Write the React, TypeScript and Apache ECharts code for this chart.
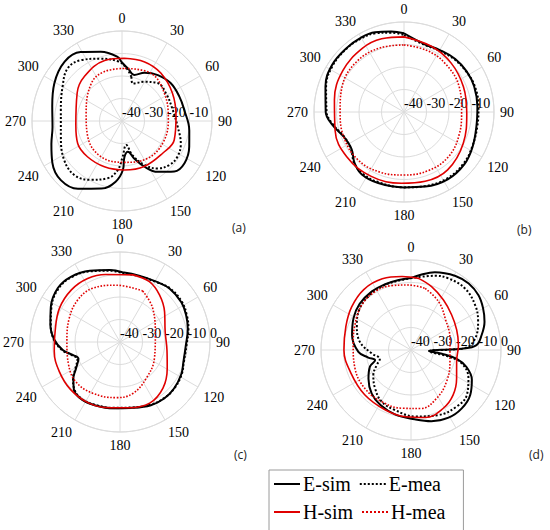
import React, { useEffect, useRef } from "react";
import * as echarts from "echarts";

// Tick labels
const ANGLE_LABELS = ["0", "30", "60", "90", "120", "150", "180", "210", "240", "270", "300", "330"];
const RADIUS_MIN = -40;
const RADIUS_MAX = 0;
const RADIUS_STEP = 10;
const SERIES_NAMES = ["E-sim", "E-mea", "H-sim", "H-mea"];
const PANEL_LABELS = ["(a)", "(b)", "(c)", "(d)"];
// whether the outermost ring label (0) is shown in each panel
const SHOW_ZERO_LABEL = [false, false, true, true];

// [angle in degrees (0 = top, clockwise), gain in dB]
const A_ESIM = [[8,-17.0],[15,-18.8],[25,-16.3],[38,-14.1],[52,-12.6],[67,-12.3],[80,-11.9],[98,-9.8],[111,-8.0],[124,-6.5],[134,-7.7],[145,-12.4],[154,-17.5],[162,-22.5],[169,-26.1],[176,-24.1],[179,-18.2],[186,-12.9],[197,-8.6],[213,-4.1],[226,-2.2],[239,-3.9],[252,-7.0],[265,-9.0],[282,-8.3],[299,-5.6],[316,-3.3],[329,-4.2],[343,-7.8],[356,-11.4],[0,-14.0]];
const A_EMEA = [[12,-19.9],[16,-22.7],[30,-19.9],[43,-16.9],[58,-16.9],[78,-16.9],[96,-15.1],[111,-12.0],[123,-10.7],[133,-11.3],[143,-13.6],[153,-18.1],[163,-24.1],[170,-29.2],[179,-24.1],[185,-18.1],[194,-13.8],[208,-10.4],[221,-8.0],[236,-9.0],[256,-12.0],[280,-12.4],[300,-9.5],[314,-6.4],[326,-7.4],[341,-10.7],[357,-13.6],[5,-16.5]];
const A_HSIM = [[2,-12.1],[21,-11.9],[39,-12.6],[61,-14.4],[85,-15.9],[110,-15.3],[128,-16.9],[154,-17.5],[177,-18.2],[201,-18.2],[224,-17.9],[243,-17.9],[265,-19.4],[302,-16.5],[320,-14.1],[344,-12.0]];
const A_HMEA = [[3,-16.6],[31,-15.2],[57,-17.5],[89,-19.4],[119,-19.4],[146,-19.9],[177,-21.6],[211,-21.6],[246,-23.3],[282,-23.7],[321,-18.4],[340,-16.7]];

const B_ESIM = [[0,-5.0],[17,-8.5],[30,-8.2],[44,-7.2],[57,-6.8],[70,-6.8],[86,-7.3],[101,-7.2],[117,-5.8],[131,-4.5],[147,-4.3],[164,-5.5],[180,-6.5],[200,-6.4],[214,-6.5],[224,-8.4],[235,-11.5],[248,-11.0],[260,-7.6],[270,-5.2],[288,-3.3],[303,-1.8],[318,-1.8],[330,-1.8],[340,-2.3],[351,-3.8]];
const B_EMEA = [[0,-5.8],[17,-8.8],[30,-8.6],[44,-7.6],[57,-7.0],[70,-6.5],[86,-6.8],[101,-6.8],[117,-6.0],[131,-5.0],[147,-4.8],[164,-5.8],[180,-6.5],[200,-6.8],[214,-7.0],[224,-8.2],[235,-11.2],[248,-11.2],[260,-8.0],[270,-5.6],[288,-3.6],[303,-2.2],[318,-2.0],[330,-2.2],[340,-2.8],[351,-4.3]];
const B_HSIM = [[0,-6.6],[23,-8.4],[44,-9.8],[67,-11.3],[91,-12.1],[118,-10.2],[143,-7.8],[163,-7.8],[182,-8.3],[207,-7.9],[232,-7.7],[255,-8.3],[280,-8.6],[304,-7.2],[327,-6.2],[343,-6.0]];
const B_HMEA = [[0,-10.2],[20,-10.8],[40,-11.7],[65,-13.0],[90,-14.4],[112,-13.5],[135,-12.0],[157,-11.8],[180,-12.0],[202,-11.2],[224,-10.5],[247,-11.0],[270,-11.6],[293,-10.2],[317,-9.3],[340,-9.6]];

const C_ESIM = [[2,-9.0],[16,-9.3],[31,-8.7],[43,-7.6],[57,-7.5],[68,-8.3],[79,-9.3],[93,-10.7],[107,-10.5],[118,-9.2],[131,-8.3],[142,-8.1],[154,-8.7],[169,-10.2],[186,-10.4],[201,-9.8],[213,-9.3],[224,-10.5],[232,-13.7],[239,-17.2],[248,-20.1],[256,-17.5],[262,-14.3],[272,-10.8],[284,-8.1],[297,-5.5],[311,-3.4],[323,-3.7],[337,-5.6],[352,-7.7]];
const C_EMEA = [[2,-9.3],[16,-9.5],[31,-8.9],[43,-7.4],[57,-7.2],[68,-8.0],[79,-9.0],[93,-10.4],[107,-10.3],[118,-9.0],[131,-8.2],[142,-8.3],[154,-9.0],[169,-10.4],[186,-10.6],[201,-10.0],[213,-9.5],[224,-10.8],[232,-13.5],[239,-16.8],[248,-19.6],[256,-17.2],[262,-14.0],[272,-10.6],[284,-8.3],[297,-5.8],[311,-3.8],[323,-4.0],[337,-5.9],[352,-8.0]];
const C_HSIM = [[11,-9.6],[26,-10.2],[40,-12.7],[56,-16.1],[77,-19.4],[100,-18.8],[119,-16.0],[137,-12.0],[154,-9.8],[172,-10.5],[189,-10.4],[207,-9.5],[226,-9.5],[244,-10.0],[262,-10.5],[279,-10.8],[299,-9.2],[317,-8.3],[333,-8.3],[348,-9.3]];
const C_HMEA = [[24,-15.2],[44,-19.1],[79,-24.0],[115,-23.1],[144,-20.1],[166,-16.4],[184,-15.2],[208,-14.2],[228,-13.6],[246,-15.0],[270,-16.4],[295,-15.1],[315,-13.5],[333,-13.2],[356,-14.7]];

const D_ESIM = [[0,-8.0],[8,-6.1],[17,-3.9],[31,-1.6],[41,-0.9],[51,-1.4],[60,-3.0],[69,-5.0],[78,-7.9],[86,-11.0],[88.5,-17.5],[89.5,-26.4],[93,-32.0],[97,-26.2],[101,-19.3],[107,-14.2],[116,-9.9],[127,-7.0],[139,-5.6],[151,-5.6],[164,-7.1],[177,-9.2],[194,-10.5],[209,-12.0],[222,-13.9],[236,-17.2],[248,-20.3],[254,-23.4],[260,-20.7],[268,-16.6],[284,-13.0],[299,-10.8],[312,-9.3],[326,-8.7],[338,-8.6],[350,-8.4]];
const D_EMEA = [[3,-7.8],[18,-5.3],[27.5,-4.1],[41,-3.6],[55,-5.2],[67,-7.6],[80,-11.1],[88,-16.0],[89.5,-23.4],[94,-32.0],[100,-23.1],[104.7,-16.7],[116,-11.6],[129,-8.1],[141,-7.7],[157,-8.6],[176.6,-10.4],[195,-12.4],[209.6,-13.6],[223,-16.6],[236.4,-19.9],[246.4,-23.4],[254,-25.6],[265,-22.5],[279,-17.0],[294.7,-13.5],[309,-10.7],[323,-9.5],[338,-8.9],[352.4,-8.6]];
const D_HSIM = [[6,-8.0],[18,-10.4],[33,-13.5],[49,-16.1],[66,-17.8],[84,-18.8],[104,-19.1],[122,-16.1],[137,-12.6],[151,-10.4],[168,-9.3],[185,-10.2],[203,-11.0],[226,-11.4],[249,-11.4],[270,-10.2],[290,-9.2],[306,-7.4],[322,-5.9],[338,-5.9],[353,-7.1]];
const D_HMEA = [[13,-11.9],[30,-15.3],[49,-19.6],[73,-21.9],[107,-21.9],[132,-18.8],[152,-15.7],[170,-13.6],[189,-13.8],[210,-13.6],[230,-13.3],[252,-13.8],[275,-14.2],[294,-12.7],[312,-10.4],[328,-9.5],[343,-10.1],[358,-11.1]];

const PANELS = [
  [A_ESIM, A_EMEA, A_HSIM, A_HMEA],
  [B_ESIM, B_EMEA, B_HSIM, B_HMEA],
  [C_ESIM, C_EMEA, C_HSIM, C_HMEA],
  [D_ESIM, D_EMEA, D_HSIM, D_HMEA],
];

const CENTERS = [[122, 121], [404, 112], [120, 342], [411, 350]];
const LABEL_POS = [[232, 221], [517, 223], [234, 448], [529, 448]];
const RADIUS = 90;

const STYLES = [
  { color: "#000000", width: 2, type: "solid" },
  { color: "#000000", width: 2, type: "dotted" },
  { color: "#e00000", width: 1.6, type: "solid" },
  { color: "#e00000", width: 1.6, type: "dotted" },
];

const SERIF = "Liberation Serif";
const GRID = "#dcdcdc";
const TICK_TEXT = { fontFamily: SERIF, fontSize: 14, color: "#000" };

export default function App() {
  const ref = useRef<HTMLDivElement>(null);
  useEffect(() => {
    if (!ref.current) return;
    const chart = echarts.init(ref.current, undefined, { renderer: "svg" });

    const polar = CENTERS.map((c) => ({ center: c, radius: RADIUS }));
    const angleAxis = CENTERS.map((_, i) => ({
      polarIndex: i,
      type: "value",
      min: 0,
      max: 360,
      interval: 30,
      startAngle: 0,
      clockwise: true,
      axisLine: { show: true, lineStyle: { color: GRID, width: 1 } },
      axisTick: { show: false },
      axisLabel: {
        margin: 6,
        ...TICK_TEXT,
        formatter: (v: number) => (v >= 360 ? "" : ANGLE_LABELS[((v + 90) % 360) / 30]),
      },
      splitLine: { show: true, lineStyle: { color: GRID, width: 1 } },
    }));
    const radiusAxis = CENTERS.map((_, i) => ({
      polarIndex: i,
      type: "value",
      min: RADIUS_MIN,
      max: RADIUS_MAX,
      interval: RADIUS_STEP,
      axisLine: { show: false },
      axisTick: { show: false },
      axisLabel: {
        margin: 2,
        ...TICK_TEXT,
        align: "left",
        formatter: (v: number) => (v === RADIUS_MAX && !SHOW_ZERO_LABEL[i] ? "" : String(v)),
      },
      splitLine: { show: true, lineStyle: { color: GRID, width: 1 } },
      z: 1,
    }));

    const series: any[] = [];
    PANELS.forEach((panel, p) => {
      panel.forEach((pts, s) => {
        const data = pts.map(([a, v]) => [v, (a + 270) % 360]);
        data.push(data[0]);
        series.push({
          type: "line",
          name: SERIES_NAMES[s],
          coordinateSystem: "polar",
          polarIndex: p,
          data,
          smooth: 0.4,
          symbol: "none",
          lineStyle: { ...STYLES[s] },
          itemStyle: { color: STYLES[s].color },
          z: s < 2 ? 3 : 4,
        });
      });
    });

    const graphic = PANEL_LABELS.map((t, i) => ({
      type: "text",
      x: LABEL_POS[i][0],
      y: LABEL_POS[i][1],
      style: { text: t, fontFamily: "Open Sans", fontSize: 12, fill: "#222" },
    }));

    chart.setOption({
      animation: false,
      backgroundColor: "#ffffff",
      textStyle: { fontFamily: SERIF },
      polar,
      angleAxis,
      radiusAxis,
      legend: {
        data: SERIES_NAMES,
        left: 269,
        top: 470,
        width: 180,
        orient: "horizontal",
        itemWidth: 26,
        itemHeight: 12,
        itemGap: 8,
        padding: [4, 18, 12, 4],
        borderColor: "#9a9a9a",
        borderWidth: 1,
        selectedMode: false,
        itemStyle: { opacity: 0 },
        textStyle: { fontFamily: SERIF, fontSize: 20, color: "#000", padding: [0, 0, 0, -2] },
      },
      graphic,
      series,
    });
    return () => chart.dispose();
  }, []);
  return (
    <div
      ref={ref}
      style={{ position: "absolute", left: 0, top: 0, width: 550, height: 530, background: "#fff" }}
    />
  );
}
